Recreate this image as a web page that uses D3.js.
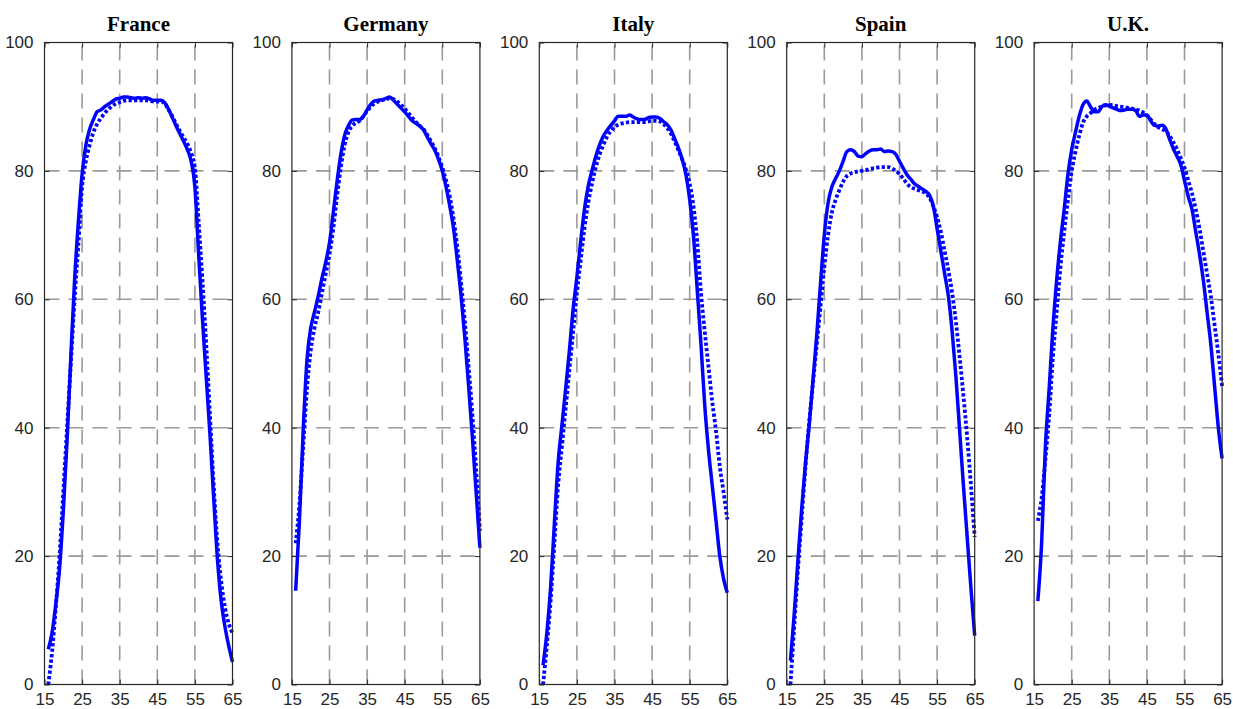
<!DOCTYPE html>
<html>
<head>
<meta charset="utf-8">
<script src="https://cdn.jsdelivr.net/npm/d3@7"></script>
<style>
  html, body { margin: 0; padding: 0; background: #fff; }
  svg { display: block; }
</style>
</head>
<body>
<svg id="chart" width="1233" height="709"></svg>
<script>
// ---------- DATA ----------
const countries = ["France", "Germany", "Italy", "Spain", "U.K."];
const ageStart = 16, ageEnd = 65;
const xTicks = [15, 25, 35, 45, 55, 65];
const yTicks = [0, 20, 40, 60, 80, 100];

// ages 16..65
const franceSolid = [5.5, 8, 12.5, 18, 27, 38, 51, 63, 72, 79.5, 84, 86.5, 88, 89.2, 89.5, 90, 90.4, 90.8, 91.2, 91.3, 91.5, 91.5, 91.4, 91.3, 91.4, 91.3, 91.4, 91.2, 91, 91, 91, 90.6, 89.6, 88.3, 87, 85.8, 84.6, 83.3, 81.5, 77.5, 67, 57, 48, 39, 29, 19.5, 13, 9, 6, 3.5];
const franceDotted = [0, 5, 12, 20, 30, 40, 50, 60, 68.5, 77.5, 81.5, 84, 86, 87.3, 88.2, 89, 89.6, 90.1, 90.5, 90.7, 90.9, 91, 91, 91, 91, 91, 91, 90.9, 90.8, 90.8, 90.8, 90.5, 89.5, 88.5, 87.3, 86.2, 85.2, 84.2, 82.8, 80.5, 72, 63, 53, 42, 31, 22, 16, 12, 9.5, 8];
const germanySolid = [14.6, 25.5, 39.5, 50.5, 55.5, 58, 60.5, 63.3, 65.8, 68.8, 73.5, 78.3, 82.5, 85.5, 87, 87.9, 88, 88, 88.5, 89.5, 90.4, 90.9, 91, 91.1, 91.3, 91.5, 91, 90.4, 89.8, 89.2, 88.5, 87.8, 87.4, 87, 86.4, 85.3, 84.2, 83.2, 81.8, 80, 77.5, 74.5, 71, 66, 60.5, 54, 46.5, 38.5, 30, 21.3];
const germanyDotted = [22, 28, 37, 46, 52, 55.5, 58, 61, 64, 67, 71, 76, 80.5, 84, 86, 87, 87.5, 87.8, 88.5, 89.3, 90, 90.5, 90.8, 91, 91.2, 91.3, 91.2, 90.8, 90.3, 89.7, 89, 88.3, 87.6, 87, 86.5, 85.6, 84.6, 83.5, 82.2, 80.5, 78.5, 76, 72.5, 68, 62.5, 56.5, 49.5, 42, 33.5, 24];
const italySolid = [3, 8, 15, 25, 34.5, 40.3, 46, 52, 58.5, 63.5, 69, 74, 77.6, 80, 82.2, 84, 85.4, 86.3, 87.1, 87.8, 88.5, 88.5, 88.5, 88.7, 88.4, 88.1, 88, 88, 88.3, 88.4, 88.4, 88.2, 87.7, 87.2, 86.4, 85, 83.6, 81.8, 79.4, 75.5, 69.9, 61.5, 53, 43.5, 36.5, 31, 25.5, 20, 16.5, 14.3];
const italyDotted = [0, 6, 13, 22, 31, 37, 43, 49, 55, 61, 66, 71, 75, 78, 80.5, 82.5, 84, 85.3, 86.2, 86.8, 87.2, 87.4, 87.5, 87.6, 87.6, 87.6, 87.6, 87.6, 87.7, 87.8, 87.8, 87.7, 87.3, 86.7, 85.8, 84.6, 83.2, 81.8, 80.2, 78, 74.5, 69, 61, 55, 49.5, 44, 39.5, 34, 30, 25.7];
const spainSolid = [3.7, 11, 19.5, 27.5, 34.5, 40.5, 47.5, 54.5, 62.5, 70, 75, 77.5, 78.8, 80, 81.5, 83, 83.3, 83, 82.3, 82.2, 82.7, 83.1, 83.3, 83.3, 83.4, 83, 83.1, 83, 82.6, 81.5, 80.4, 79.4, 78.7, 78, 77.6, 77.2, 76.8, 76.2, 74.5, 71, 67.5, 64, 60.5, 55, 48, 39.5, 31, 23, 15, 7.6];
const spainDotted = [0, 9, 18, 26, 34, 41, 47, 53, 59, 65, 70, 73.5, 75.5, 77, 78.3, 79.2, 79.6, 79.8, 79.9, 80, 80.1, 80.3, 80.4, 80.5, 80.6, 80.6, 80.6, 80.4, 80, 79.5, 78.8, 78, 77.5, 77.2, 77, 76.8, 76.5, 75.8, 74.5, 72.8, 70.5, 67.5, 64.5, 61, 56.5, 51, 45, 38.5, 31, 23];
const ukSolid = [13, 22, 37, 46, 55.5, 63, 69, 74, 79.5, 83.3, 86, 88.5, 90.3, 90.9, 90, 89.2, 89.2, 90, 90.3, 90.1, 89.8, 89.6, 89.4, 89.5, 89.6, 89.6, 89.4, 88.5, 88.7, 88.7, 87.8, 87.1, 87, 87.1, 86.6, 85, 83.5, 82.3, 81, 78.5, 76, 74, 70.5, 67, 63, 58, 53, 46.5, 40, 35.2];
const ukDotted = [25.5, 29, 35, 42, 51, 58, 65, 70.5, 75.5, 80, 83, 85.5, 87.5, 88.5, 89, 89.5, 89.8, 90, 90.2, 90.3, 90.2, 90.1, 90, 89.9, 89.8, 89.7, 89.6, 89.4, 89.1, 88.6, 88, 87.3, 86.8, 86.5, 86.2, 85.5, 84.5, 83.4, 82, 80.5, 78.5, 76.5, 74, 71, 67.5, 64, 60.5, 56, 51.5, 46.5];

const solidSeries = [franceSolid, germanySolid, italySolid, spainSolid, ukSolid];
const dottedSeries = [franceDotted, germanyDotted, italyDotted, spainDotted, ukDotted];

// ---------- LAYOUT ----------
const svg = d3.select("#chart");
const plotTop = 42.5, plotBottom = 684.5;
const panelW = 188, firstLeft = 44.5, step = 247.4;
const ages = d3.range(ageStart, ageEnd + 1);
const axisColor = "#262626";

countries.forEach((name, i) => {
  const left = firstLeft + i * step;
  const x = d3.scaleLinear().domain([15, 65]).range([left, left + panelW]);
  const y = d3.scaleLinear().domain([0, 100]).range([plotBottom, plotTop]);
  const g = svg.append("g");

  // grid
  const grid = g.append("g")
    .attr("stroke", "#9a9a9a").attr("stroke-width", 1.6)
    .attr("stroke-dasharray", "15,9").attr("fill", "none");
  xTicks.slice(1, -1).forEach(t => {
    grid.append("line").attr("x1", x(t)).attr("x2", x(t))
      .attr("y1", y(0)).attr("y2", y(100));
  });
  yTicks.slice(1, -1).forEach(t => {
    grid.append("line").attr("x1", x(15)).attr("x2", x(65))
      .attr("y1", y(t)).attr("y2", y(t));
  });

  // lines
  const line = d3.line()
    .x((d, k) => x(ages[k]))
    .y(d => y(d))
    .curve(d3.curveMonotoneX);

  g.append("path").datum(dottedSeries[i])
    .attr("d", line).attr("fill", "none")
    .attr("stroke", "#0000ff").attr("stroke-width", 3.8)
    .attr("stroke-dasharray", "3.2,2.3");
  g.append("path").datum(solidSeries[i])
    .attr("d", line).attr("fill", "none")
    .attr("stroke", "#0000ff").attr("stroke-width", 3.5)
    .attr("stroke-linejoin", "round");

  // axes (ticks inside, box)
  const styleAxis = sel => {
    sel.select(".domain").remove();
    sel.selectAll(".tick line").attr("stroke", axisColor).attr("stroke-width", 1);
    sel.selectAll("text").attr("fill", axisColor)
      .attr("font-family", "'Liberation Sans', Arial, Helvetica, sans-serif")
      .attr("font-size", "17px");
  };
  g.append("g").attr("transform", `translate(0,${plotBottom})`)
    .call(d3.axisBottom(x).tickValues(xTicks).tickSize(-5).tickPadding(8).tickFormat(d3.format("d")))
    .call(styleAxis);
  g.append("g").attr("transform", `translate(${left},0)`)
    .call(d3.axisLeft(y).tickValues(yTicks).tickSize(-5).tickPadding(11).tickFormat(d3.format("d")))
    .call(styleAxis);
  g.append("g").attr("transform", `translate(0,${plotTop})`)
    .call(d3.axisTop(x).tickValues(xTicks).tickSize(-5).tickFormat(""))
    .call(styleAxis);
  g.append("g").attr("transform", `translate(${left + panelW},0)`)
    .call(d3.axisRight(y).tickValues(yTicks).tickSize(-5).tickFormat(""))
    .call(styleAxis);

  g.append("rect").attr("x", left).attr("y", plotTop)
    .attr("width", panelW).attr("height", plotBottom - plotTop)
    .attr("fill", "none").attr("stroke", axisColor).attr("stroke-width", 1.2);

  // title
  g.append("text").attr("x", left + panelW / 2).attr("y", 31)
    .attr("text-anchor", "middle")
    .attr("font-family", "'Liberation Serif', 'DejaVu Serif', serif")
    .attr("font-weight", "bold").attr("font-size", "21px")
    .attr("fill", "#000").text(name);
});
</script>
</body>
</html>
